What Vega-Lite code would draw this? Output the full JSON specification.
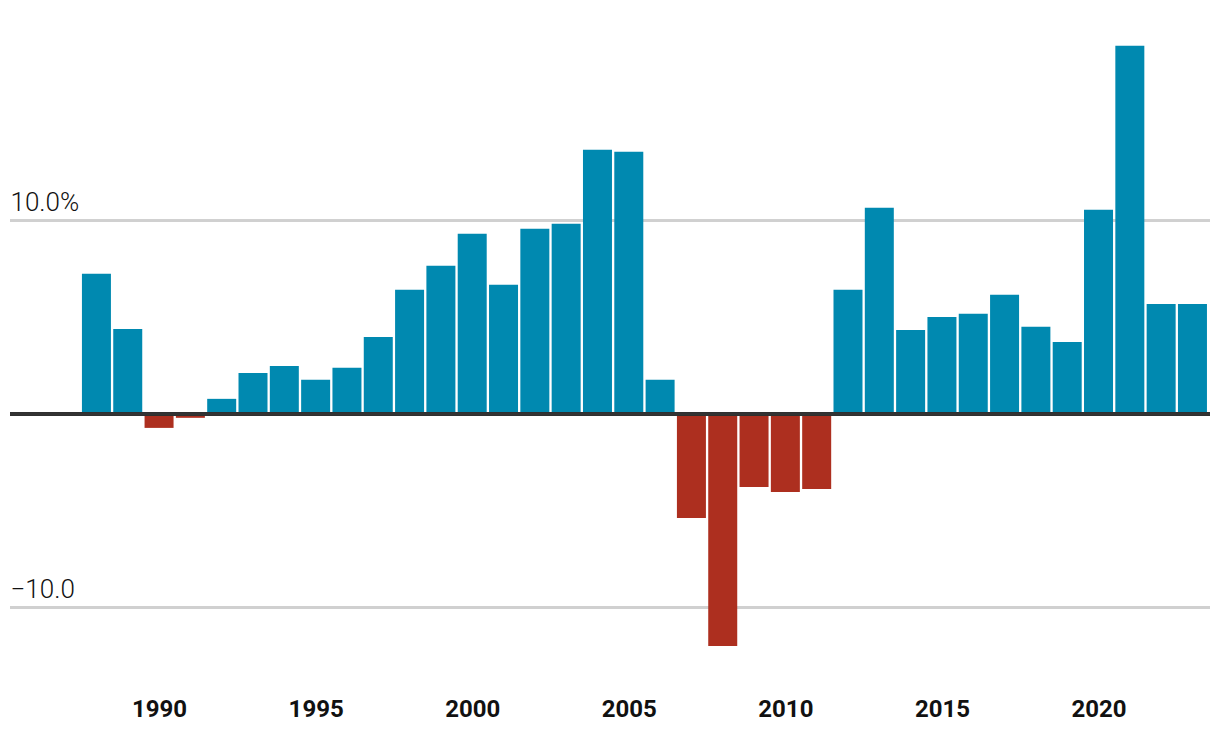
{
  "$schema": "https://vega.github.io/schema/vega-lite/v6.json",
  "autosize": {"type": "none"},
  "width": 1200,
  "height": 639,
  "padding": {"left": 10, "top": 17, "right": 10, "bottom": 82},
  "background": "white",
  "config": {
    "view": {"stroke": null},
    "font": "Roboto"
  },
  "data": {
    "values": [
      {"year": 1988, "value": 7.24},
      {"year": 1989, "value": 4.39},
      {"year": 1990, "value": -0.72},
      {"year": 1991, "value": -0.2},
      {"year": 1992, "value": 0.78},
      {"year": 1993, "value": 2.12},
      {"year": 1994, "value": 2.48},
      {"year": 1995, "value": 1.76},
      {"year": 1996, "value": 2.38},
      {"year": 1997, "value": 3.98},
      {"year": 1998, "value": 6.41},
      {"year": 1999, "value": 7.65},
      {"year": 2000, "value": 9.3},
      {"year": 2001, "value": 6.67},
      {"year": 2002, "value": 9.56},
      {"year": 2003, "value": 9.82},
      {"year": 2004, "value": 13.64},
      {"year": 2005, "value": 13.54},
      {"year": 2006, "value": 1.76},
      {"year": 2007, "value": -5.37},
      {"year": 2008, "value": -11.99},
      {"year": 2009, "value": -3.77},
      {"year": 2010, "value": -4.03},
      {"year": 2011, "value": -3.88},
      {"year": 2012, "value": 6.41},
      {"year": 2013, "value": 10.65},
      {"year": 2014, "value": 4.34},
      {"year": 2015, "value": 5.01},
      {"year": 2016, "value": 5.17},
      {"year": 2017, "value": 6.15},
      {"year": 2018, "value": 4.5},
      {"year": 2019, "value": 3.72},
      {"year": 2020, "value": 10.54},
      {"year": 2021, "value": 19.02},
      {"year": 2022, "value": 5.68},
      {"year": 2023, "value": 5.68}
    ]
  },
  "layer": [
    {
      "mark": {"type": "rule", "color": "#d0d0d0", "strokeWidth": 2},
      "encoding": {"y": {"datum": 10}}
    },
    {
      "mark": {"type": "rule", "color": "#d0d0d0", "strokeWidth": 2},
      "encoding": {"y": {"datum": -10}}
    },
    {
      "mark": {"type": "bar", "width": 29},
      "encoding": {
        "x": {
          "field": "year",
          "type": "quantitative",
          "scale": {"domain": [1985.24, 2023.56], "nice": false, "zero": false, "padding": 0},
          "axis": {
            "values": [1990, 1995, 2000, 2005, 2010, 2015, 2020],
            "format": "d",
            "title": null,
            "domain": false,
            "ticks": false,
            "grid": false,
            "labelPadding": 41,
            "labelFontSize": 24,
            "labelFontWeight": "bold",
            "labelColor": "#111111",
            "labelFont": "Roboto"
          }
        },
        "y": {
          "field": "value",
          "type": "quantitative",
          "scale": {"domain": [-12.5, 20.5], "nice": false, "zero": false},
          "axis": {
            "values": [-10, 10],
            "title": null,
            "domain": false,
            "ticks": false,
            "tickSize": 0,
            "grid": false,
            "labelAlign": "left",
            "labelBaseline": "alphabetic",
            "labelPadding": 0,
            "labelOffset": -10,
            "labelFontSize": 26,
            "labelFontWeight": 300,
            "labelColor": "#111111",
            "labelFont": "Roboto",
            "labelExpr": "datum.value > 0 ? '10.0%' : '−10.0'"
          }
        },
        "color": {
          "condition": {"test": "datum.value < 0", "value": "#AD2F1F"},
          "value": "#0089B0"
        }
      }
    },
    {
      "mark": {"type": "rule", "color": "#333333", "strokeWidth": 2.5},
      "encoding": {"y": {"datum": 0}}
    }
  ]
}
